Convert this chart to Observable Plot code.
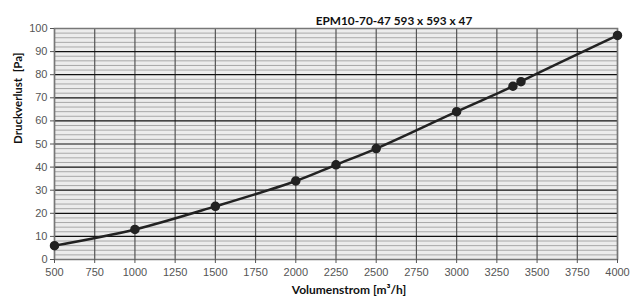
<!DOCTYPE html>
<html>
<head>
<meta charset="utf-8">
<script src="https://cdn.jsdelivr.net/npm/d3@7"></script>
<script src="https://cdn.jsdelivr.net/npm/@observablehq/plot@0.6"></script>
<style>
  html, body { margin: 0; padding: 0; background: #fff; }
</style>
</head>
<body>
<div id="chart"></div>
<script>
const flow = [500, 1000, 1500, 2000, 2250, 2500, 3000, 3350, 3400, 4000];
const pressure = [6, 13, 23, 34, 41, 48, 64, 75, 77, 97];
const xTicks = [500, 750, 1000, 1250, 1500, 1750, 2000, 2250, 2500, 2750, 3000, 3250, 3500, 3750, 4000];
const yTicks = [0, 10, 20, 30, 40, 50, 60, 70, 80, 90, 100];
const yMinor = [2,4,6,8,12,14,16,18,22,24,26,28,32,34,36,38,42,44,46,48,52,54,56,58,62,64,66,68,72,74,76,78,82,84,86,88,92,94,96,98];
const title = "EPM10-70-47 593 x 593 x 47";
const xLabel = "Volumenstrom [m³/h]";
const yLabel = "Druckverlust  [Pa]";

const data = flow.map((f, i) => ({flow: f, dp: pressure[i]}));
const boldFont = "Lato, 'Open Sans', sans-serif";

const chart = Plot.plot({
  width: 641,
  height: 302,
  marginLeft: 54,
  marginRight: 24,
  marginTop: 28,
  marginBottom: 43,
  style: {fontFamily: "'Liberation Sans', Arial, sans-serif", fontSize: "11px", color: "#555", background: "#fff"},
  x: {domain: [500, 4000], label: null},
  y: {domain: [0, 100], label: null},
  marks: [
    Plot.frame({fill: "#ececec", stroke: null}),
    Plot.ruleY(yMinor, {stroke: "#a8a8a8", strokeWidth: 1}),
    Plot.ruleX(xTicks, {stroke: "#555", strokeWidth: 1.2}),
    Plot.ruleY(yTicks, {stroke: "#111", strokeWidth: 1.2}),
    Plot.frame({stroke: "#777", strokeWidth: 1.5}),
    Plot.axisX({ticks: xTicks, tickFormat: d => String(d), tickSize: 4, tickPadding: 5, stroke: "#555", fill: "#555", fontSize: 11, label: null}),
    Plot.axisY({ticks: yTicks, tickFormat: d => String(d), tickSize: 4, tickPadding: 3, stroke: "#555", fill: "#555", fontSize: 11, label: null}),
    Plot.line(data, {x: "flow", y: "dp", curve: "catmull-rom", stroke: "#222", strokeWidth: 2.5}),
    Plot.dot(data, {x: "flow", y: "dp", r: 4, fill: "#222", stroke: "#222"}),
    Plot.text([title], {text: d => d, frameAnchor: "top", dx: 58, dy: -12, fontFamily: boldFont, fontWeight: "bold", fontSize: 11.8, fill: "#111"}),
    Plot.text([xLabel], {text: d => d, frameAnchor: "bottom", dx: 13, dy: 34, fontFamily: boldFont, fontWeight: "bold", fontSize: 12, fill: "#111"}),
    Plot.text([yLabel], {text: d => d, frameAnchor: "left", rotate: -90, dx: -36, dy: 0, fontFamily: boldFont, fontWeight: "bold", fontSize: 11.5, fill: "#111"})
  ]
});
document.getElementById("chart").appendChild(chart);
</script>
</body>
</html>
